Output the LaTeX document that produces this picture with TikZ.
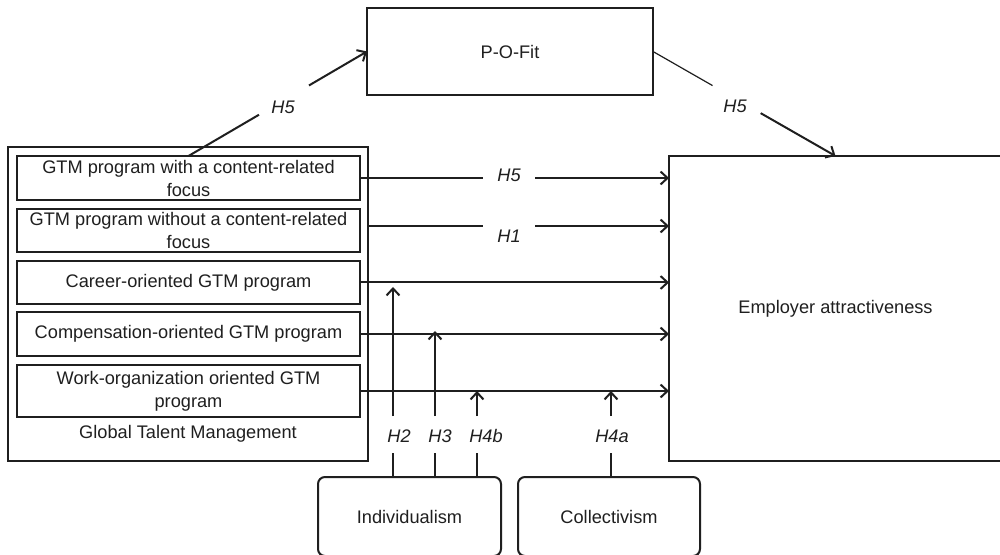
\documentclass[tikz,border=0pt]{standalone}
\usepackage{fontspec}
\setmainfont{Liberation Sans}
\usetikzlibrary{arrows.meta,calc}
\begin{document}
\begin{tikzpicture}[x=0.5pt,y=-0.5pt,
  ln/.style={line width=1pt,draw=black!88},
  arr/.style={ln,-{Straight Barb[length=3.5pt,width=6.5pt]}},
  box/.style={ln,rectangle,inner sep=0pt,outer sep=0pt,align=center,font=\fontsize{9.1}{11.5}\selectfont,text=black!88},
  rbox/.style={box,rounded corners=3.5pt},
  plain/.style={inner sep=0pt,font=\fontsize{9.1}{11.5}\selectfont,text=black!88},
  hl/.style={inner sep=0pt,font=\fontsize{9.1}{11}\selectfont\itshape,text=black!88}
]
\fill[white] (0,0) rectangle (1000,555);
\clip (0,0) rectangle (1000,555);

% boxes
\node[box,minimum width=180pt,minimum height=157pt] (gtm) at (188,304) {};
\node[box,minimum width=171.5pt,minimum height=22pt] (b1) at (188.5,178) {GTM program with a content-related\\focus};
\node[box,minimum width=171.5pt,minimum height=21.5pt] (b2) at (188.5,230.5) {GTM program without a content-related\\focus};
\node[box,minimum width=171.5pt,minimum height=21.5pt] (b3) at (188.5,282.5) {Career-oriented GTM program};
\node[box,minimum width=171.5pt,minimum height=22pt] (b4) at (188.5,334) {Compensation-oriented GTM program};
\node[box,minimum width=171.5pt,minimum height=26pt] (b5) at (188.5,391) {Work-organization oriented GTM\\program};
\node[plain] (gtml) at (188,434) {Global Talent Management};

\node[box,minimum width=166.5pt,minimum height=152.5pt] (emp) at (835.5,308.5) {Employer attractiveness};
\node[box,minimum width=143pt,minimum height=43.5pt] (pof) at (510,51.5) {P-O-Fit};
\node[rbox,minimum width=91.5pt,minimum height=39.5pt] (ind) at (409.5,516.5) {Individualism};
\node[rbox,minimum width=91pt,minimum height=39.5pt] (col) at (609,516.5) {Collectivism};

% gap coordinates on the horizontal lines
\coordinate (gl) at (483,0);
\coordinate (gr) at (535,0);

% horizontal connectors
\draw[ln] (b1.east) -- (b1.east -| gl);
\draw[arr] (b1.east -| gr) -- (b1.east -| emp.west);
\node[hl] (h5m) at (509,175) {H5};

\coordinate (l2) at ($(b2.east)+(0,-4.5)$);
\draw[ln] (l2 -| gtm.east) -- (l2 -| gl);
\draw[arr] (l2 -| gr) -- (l2 -| emp.west);
\node[hl] (h1) at (509,236) {H1};

\draw[arr] (b3.east) -- (b3.east -| emp.west);
\draw[arr] (b4.east) -- (b4.east -| emp.west);
\draw[arr] (b5.east) -- (b5.east -| emp.west);

% mediation via P-O-Fit
\draw[ln] (b1.north) -- ($(b1.north)!0.395!(pof.west)$);
\draw[arr] ($(b1.north)!0.675!(pof.west)$) -- (pof.west);
\node[hl] (h5a) at (283,107) {H5};

\draw[ln,line width=0.6pt] (pof.east) -- ($(pof.east)!0.326!(emp.north)$);
\draw[arr] ($(pof.east)!0.59!(emp.north)$) -- (emp.north);
\node[hl] (h5b) at (735,106) {H5};

% moderators
\path (ind.north west) ++(75,0) coordinate (i2);
\path (ind.north west) ++(117,0) coordinate (i3);
\path (ind.north west) ++(159,0) coordinate (i4);
\path (col.north west) ++(93,0) coordinate (c4);

\draw[ln] (i2) -- ++(0,-24);
\draw[arr] ($(i2)+(0,-61)$) -- ($(i2 |- b3.east)+(0,4.5)$);
\node[hl] (h2) at (399,436) {H2};

\draw[ln] (i3) -- ++(0,-24);
\draw[arr] ($(i3)+(0,-61)$) -- ($(i3 |- b4.east)+(0,-3)$);
\node[hl] (h3) at (440,436) {H3};

\draw[ln] (i4) -- ++(0,-24);
\draw[arr] ($(i4)+(0,-61)$) -- (i4 |- b5.east);
\node[hl] (h4b) at (486,436) {H4b};

\draw[ln] (c4) -- ++(0,-24);
\draw[arr] ($(c4)+(0,-61)$) -- (c4 |- b5.east);
\node[hl] (h4a) at (612,436) {H4a};
\end{tikzpicture}
\end{document}
